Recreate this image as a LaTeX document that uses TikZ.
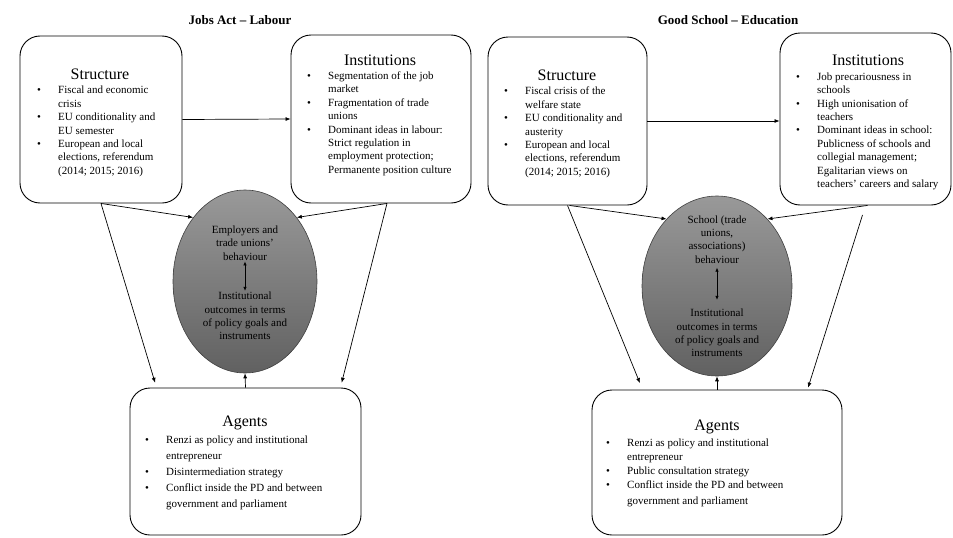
\documentclass[tikz,border=0pt]{standalone}
\usepackage{fontspec}
\setmainfont{Liberation Serif}
\usetikzlibrary{arrows.meta,shapes.geometric}

\newcommand{\itm}{\makebox[21pt][l]{\textbullet}}
\newcommand{\itmcont}{\hspace*{21pt}}

\tikzset{
    panel/.style={draw, rounded corners=20pt, line width=0.9pt, inner sep=0pt},
    head/.style={inner sep=0pt, font=\fontsize{16}{18}\selectfont},
    title/.style={inner sep=0pt, font=\fontsize{13}{15}\selectfont\bfseries},
    items/.style={anchor=north west, inner sep=0pt, align=left, font=\fontsize{11}{13.4}\selectfont},
    hub/.style={ellipse, draw=black!75, line width=0.6pt, top color=black!40, bottom color=black!62, inner sep=0pt},
    hubtext/.style={inner sep=1pt, align=center, font=\fontsize{11}{13.4}\selectfont},
    link/.style={-{Latex[length=5pt,width=4pt]}, line width=0.7pt},
}

\begin{document}
\begin{tikzpicture}[x=1pt, y=-1pt]
    \useasboundingbox (0,0) rectangle (953,538);

    % Jobs Act
    \node[title] (ltitle) at (240,20) {Jobs Act -- Labour};
    \node[panel, minimum width=162pt, minimum height=167pt] (ls) at (101,119.5) {};
    \node[panel, minimum width=180pt, minimum height=168pt] (li) at (381,119) {};
    \node[panel, minimum width=231pt, minimum height=147pt] (la) at (245.5,461.5) {};
    \node[hub, minimum width=144pt, minimum height=183pt] (le) at (245,281.5) {};

    \node[head] (lsh) at (100,74) {Structure};
    \node[items] (lsl) at (37,86) {\itm Fiscal and economic\\ \itmcont crisis\\
        \itm EU conditionality and\\ \itmcont EU semester\\
        \itm European and local\\ \itmcont elections, referendum\\ \itmcont (2014; 2015; 2016)};

    \node[head] (lih) at (380,60) {Institutions};
    \node[items] (lil) at (307,71.5) {\itm Segmentation of the job\\ \itmcont market\\
        \itm Fragmentation of trade\\ \itmcont unions\\
        \itm Dominant ideas in labour:\\ \itmcont Strict regulation in\\
        \itmcont employment protection;\\ \itmcont Permanente position culture};

    \node[head] (lah) at (245,423) {Agents};
    \node[items, font=\fontsize{11}{16}\selectfont] (lal) at (145,435.5) {\itm Renzi as policy and institutional\\ \itmcont entrepreneur\\
        \itm Disintermediation strategy\\
        \itm Conflict inside the PD and between\\ \itmcont government and parliament};

    \node[hubtext] (lb) at (245,243) {Employers and\\ trade unions'\\ behaviour};
    \node[hubtext] (lo) at (245,316) {Institutional\\ outcomes in terms\\ of policy goals and\\ instruments};
    \draw[{Latex[length=4pt,width=3.5pt]}-{Latex[length=4pt,width=3.5pt]}, line width=0.7pt] (lb.south) -- (lo.north);

    \draw[link] (ls.east) -- (li.west);
    \draw[link] (ls.south) -- (le.129);
    \draw[link, shorten >=5pt] (ls.south) -- ([xshift=27pt]la.north west);
    \draw[link] ([xshift=6pt]li.south) -- (le.51);
    \draw[link, shorten >=5pt] ([xshift=6pt]li.south) -- ([xshift=-21pt]la.north east);
    \draw[link] (la.north) -- (le.south);

    % Good School
    \node[title] (rtitle) at (728,20) {Good School -- Education};
    \node[panel, minimum width=159pt, minimum height=168pt] (rs) at (567.5,121) {};
    \node[panel, minimum width=171pt, minimum height=172pt] (ri) at (865.5,119) {};
    \node[panel, minimum width=250pt, minimum height=145pt] (ra) at (717,462.5) {};
    \node[hub, minimum width=150pt, minimum height=180pt] (re) at (717,286) {};

    \node[head] (rsh) at (567,75) {Structure};
    \node[items] (rsl) at (504,87) {\itm Fiscal crisis of the\\ \itmcont welfare state\\
        \itm EU conditionality and\\ \itmcont austerity\\
        \itm European and local\\ \itmcont elections, referendum\\ \itmcont (2014; 2015; 2016)};

    \node[head] (rih) at (868,60) {Institutions};
    \node[items] (ril) at (796,72.5) {\itm Job precariousness in\\ \itmcont schools\\
        \itm High unionisation of\\ \itmcont teachers\\
        \itm Dominant ideas in school:\\ \itmcont Publicness of schools and\\
        \itmcont collegial management;\\ \itmcont Egalitarian views on\\
        \itmcont teachers' careers and salary};

    \node[head] (rah) at (717,427) {Agents};
    \node[items, font=\fontsize{11}{14}\selectfont] (ral) at (606,438.5) {\itm Renzi as policy and institutional\\ \itmcont entrepreneur\\
        \itm Public consultation strategy\\
        \itm Conflict inside the PD and between\\[2pt] \itmcont government and parliament};

    \node[hubtext] (rb) at (717,239.5) {School (trade\\ unions,\\ associations)\\ behaviour};
    \node[hubtext] (ro) at (717,333) {Institutional\\ outcomes in terms\\ of policy goals and\\ instruments};
    \draw[{Latex[length=4pt,width=3.5pt]}-{Latex[length=4pt,width=3.5pt]}, line width=0.7pt] ([yshift=-3pt]rb.south) -- ([yshift=8pt]ro.north);

    \draw[link] (rs.east) -- (rs.east -| ri.west);
    \draw[link] ([xshift=2pt]rs.south) -- (re.127);
    \draw[link, shorten >=7pt] (rs.south) -- ([xshift=51pt]ra.north west);
    \draw[link] ([xshift=2pt]ri.south) -- (re.53);
    \draw[link, shorten <=10pt, shorten >=2pt] (ri.south) -- ([xshift=-35pt]ra.north east);
    \draw[link] (ra.north) -- (re.south);
\end{tikzpicture}
\end{document}
